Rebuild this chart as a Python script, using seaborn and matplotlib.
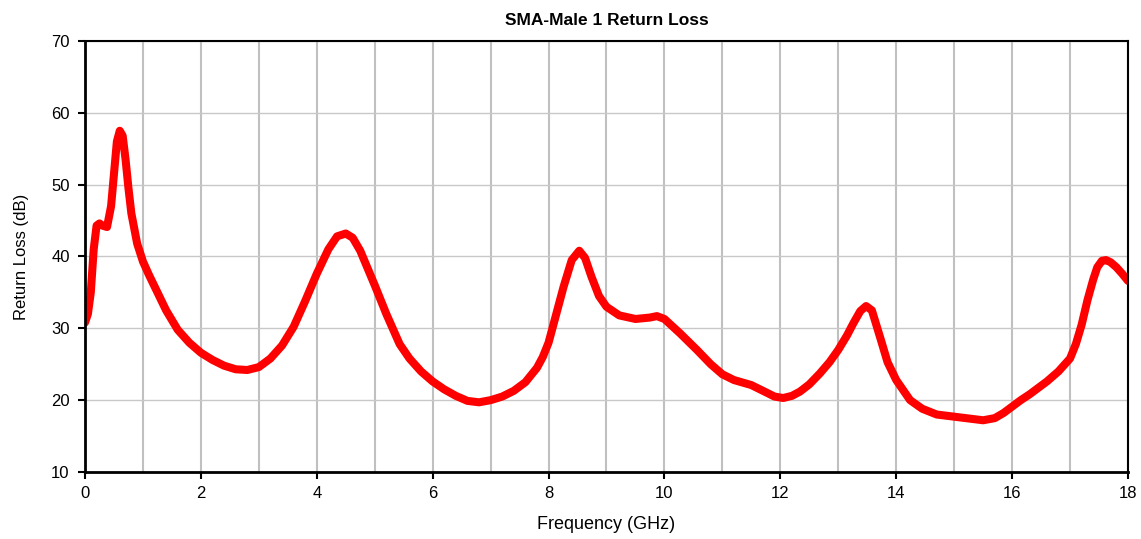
import numpy as np
import pandas as pd
import matplotlib
matplotlib.use('Agg')
import matplotlib.pyplot as plt
import seaborn as sns

# Frequency (GHz) and return loss (dB)
freq = [0.0, 0.05, 0.1, 0.15, 0.2, 0.25, 0.3, 0.38, 0.45, 0.5, 0.55, 0.6, 0.65,
        0.7, 0.75, 0.8, 0.9, 1.0, 1.1, 1.25, 1.4, 1.6, 1.8, 2.0, 2.2, 2.4, 2.6,
        2.8, 3.0, 3.2, 3.4, 3.6, 3.8, 4.0, 4.2, 4.35, 4.5, 4.62, 4.75, 5.0, 5.2,
        5.43, 5.6, 5.8, 6.0, 6.2, 6.4, 6.6, 6.8, 7.0, 7.2, 7.4, 7.6, 7.8, 7.9,
        8.0, 8.1, 8.26, 8.4, 8.53, 8.63, 8.74, 8.87, 9.0, 9.22, 9.5, 9.75, 9.87,
        10.0, 10.27, 10.56, 10.8, 11.0, 11.2, 11.5, 11.7, 11.9, 12.05, 12.2,
        12.34, 12.5, 12.68, 12.85, 13.0, 13.15, 13.26, 13.38, 13.48, 13.58,
        13.72, 13.85, 14.0, 14.24, 14.45, 14.7, 15.0, 15.2, 15.5, 15.7, 15.85,
        16.0, 16.15, 16.3, 16.6, 16.8, 17.0, 17.1, 17.2, 17.3, 17.4, 17.47, 17.55,
        17.62, 17.7, 17.8, 17.9, 18.0]
loss = [30.8, 32.0, 35.0, 41.0, 44.3, 44.6, 44.3, 44.1, 47.0, 51.5, 56.0, 57.5, 56.8,
        53.5, 49.5, 46.0, 41.8, 39.3, 37.5, 35.0, 32.5, 29.8, 28.0, 26.6, 25.6, 24.8, 24.3,
        24.2, 24.6, 25.8, 27.6, 30.2, 33.8, 37.6, 41.0, 42.8, 43.2, 42.6, 40.8, 36.0, 32.0,
        27.8, 25.8, 24.0, 22.6, 21.5, 20.6, 19.9, 19.7, 20.0, 20.5, 21.3, 22.5, 24.5, 26.0,
        28.0, 31.0, 35.8, 39.5, 40.8, 39.8, 37.2, 34.5, 33.0, 31.8, 31.3, 31.5, 31.7,
        31.3, 29.3, 27.0, 25.0, 23.6, 22.8, 22.1, 21.3, 20.5, 20.3, 20.6,
        21.2, 22.2, 23.7, 25.3, 27.0, 29.0, 30.7, 32.4, 33.1, 32.5,
        28.8, 25.3, 22.8, 20.0, 18.8, 18.0, 17.7, 17.5, 17.2, 17.5, 18.2,
        19.1, 20.0, 20.8, 22.6, 24.0, 25.8, 27.8, 30.5, 33.9, 36.8, 38.5, 39.4,
        39.5, 39.2, 38.5, 37.6, 36.6]

df = pd.DataFrame({'Frequency': freq, 'ReturnLoss': loss})

sns.set_style('white')
plt.rcParams['font.family'] = ['Liberation Sans', 'DejaVu Sans']
plt.rcParams['text.color'] = 'black'
plt.rcParams['axes.labelcolor'] = 'black'

fig = plt.figure(figsize=(11.41, 5.39), dpi=100)
ax = fig.add_axes([0.0745, 0.1243, 0.9141, 0.7997])

sns.lineplot(data=df, x='Frequency', y='ReturnLoss', color='#ff0000',
             linewidth=5.8, ax=ax, solid_capstyle='round', solid_joinstyle='round')

ax.set_xlim(0, 18)
ax.set_ylim(10, 70)
ax.set_xticks(np.arange(0, 19, 2))
ax.set_xticks(np.arange(1, 18, 2), minor=True)
ax.set_yticks(np.arange(10, 71, 10))
ax.grid(True, which='both', axis='x', color='#c0c0c0', linewidth=1.5)
ax.grid(True, which='major', axis='y', color='#c8c8c8', linewidth=1.0)
ax.set_axisbelow(True)

for side in ['left', 'bottom']:
    ax.spines[side].set_linewidth(2.0)
for side in ['top', 'right']:
    ax.spines[side].set_linewidth(1.5)
for s in ax.spines.values():
    s.set_color('black')

ax.tick_params(axis='both', which='major', direction='out', length=5, width=1.5,
               labelsize=12, colors='black', bottom=True, left=True)
ax.tick_params(axis='x', which='major', pad=5)
ax.tick_params(axis='y', which='major', pad=6)
ax.tick_params(axis='x', which='minor', length=0)

ax.set_xlabel('Frequency (GHz)', fontsize=13, labelpad=11)
ax.set_ylabel('Return Loss (dB)', fontsize=12, labelpad=16)
ax.set_title('SMA-Male 1 Return Loss', fontsize=12.5, fontweight='bold', pad=11.5)

fig.savefig('out.png', dpi=100)
